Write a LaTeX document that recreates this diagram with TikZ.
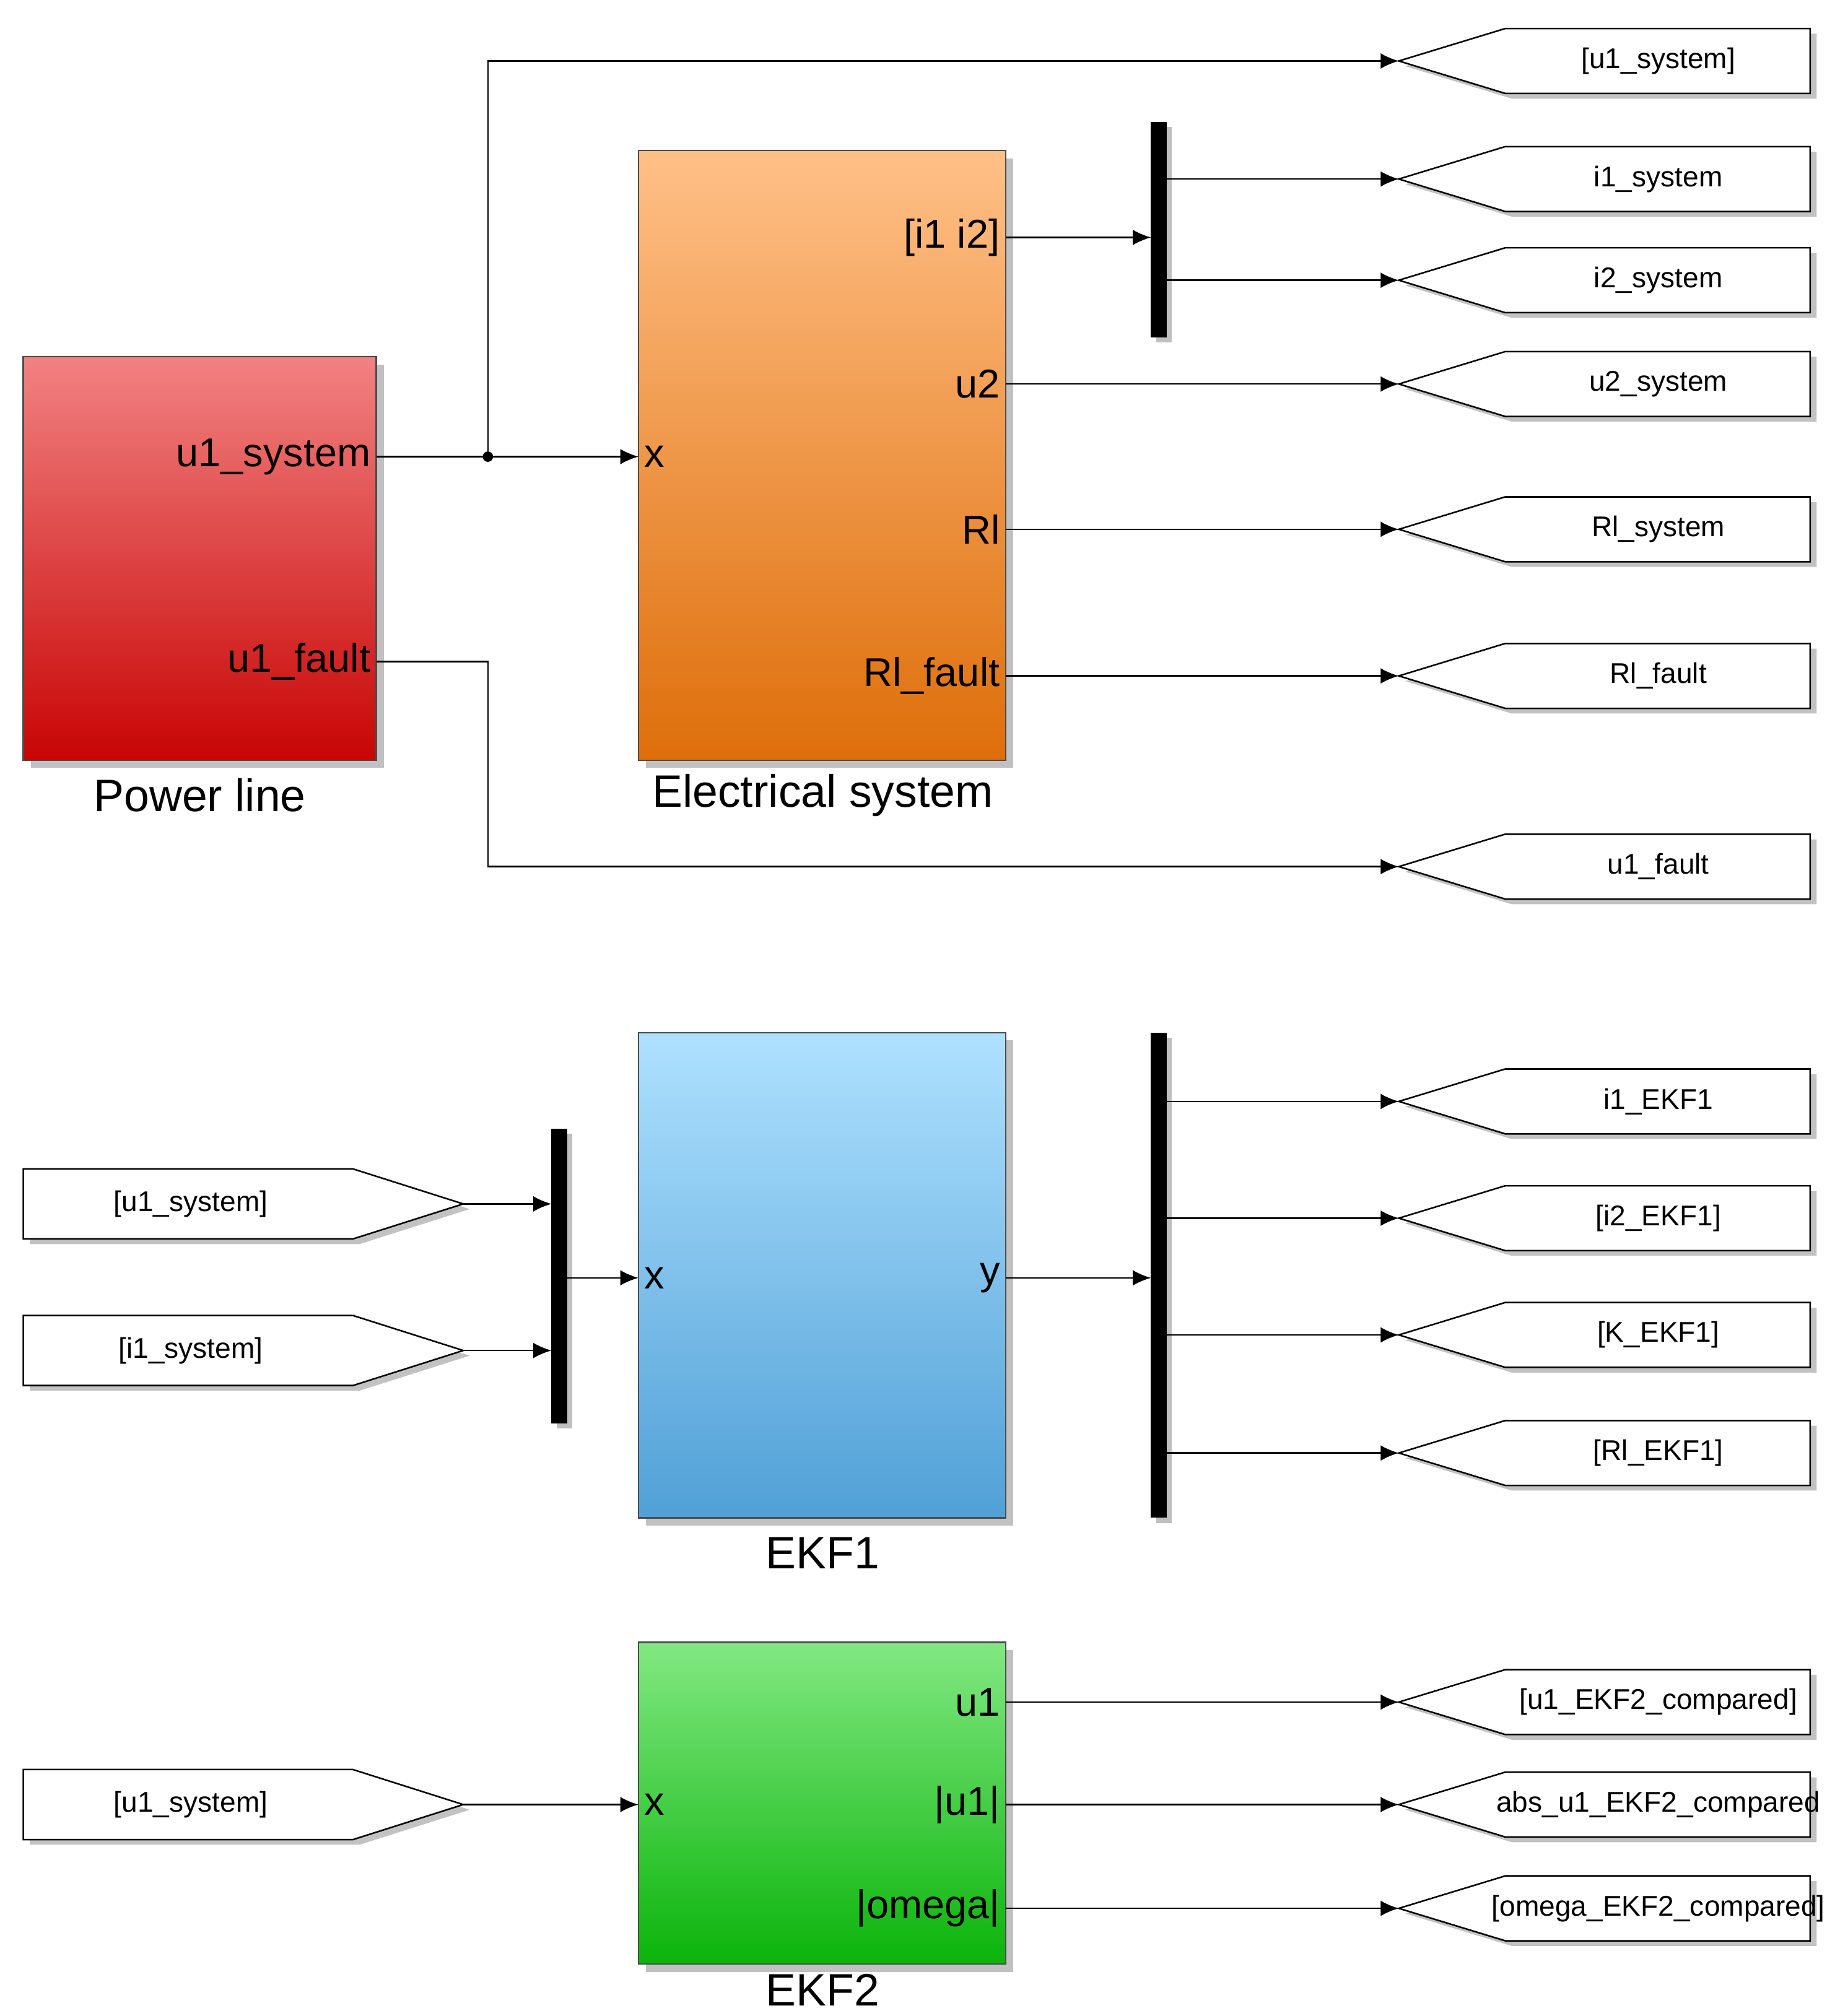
\documentclass[tikz,border=0pt]{standalone}
\usepackage{fontspec}
\setmainfont{Liberation Sans}
\usetikzlibrary{arrows.meta,shadows}
\definecolor{pinkT}{RGB}{242,130,130}\definecolor{redB}{RGB}{200,5,5}
\definecolor{orT}{RGB}{255,192,135}\definecolor{orB}{RGB}{222,110,10}
\definecolor{blT}{RGB}{175,225,255}\definecolor{blB}{RGB}{80,160,215}
\definecolor{grT}{RGB}{130,232,130}\definecolor{grB}{RGB}{10,180,10}
\begin{document}
\begin{tikzpicture}[x=0.5pt,y=-0.5pt,
 sh/.style={drop shadow={shadow xshift=3pt,shadow yshift=-3pt,opacity=.35,fill=black!70}},
 blk/.style={draw=black!70,line width=0.6pt,sh},
 port/.style={font=\fontsize{15.5}{17}\selectfont,inner sep=2pt},
 title/.style={font=\fontsize{17.5}{19}\selectfont},
 tagt/.style={font=\fontsize{11}{12}\selectfont},
 ar/.style={-{Latex[length=7pt,width=6pt]},line width=0.6pt},
 ln/.style={line width=0.6pt}]
\useasboundingbox (0,0) rectangle (1414,1554);
\newcommand\gototag[3]{%
 \fill[black!60,opacity=.4] (1083,#2+4)--(1165,#2-21)--(1400,#2-21)--(1400,#2+29)--(1165,#2+29)--cycle;
 \draw[fill=white,line width=0.6pt] (1078,#2)--(1160,#2-25)--(1395,#2-25)--(1395,#2+25)--(1160,#2+25)--cycle;
 \coordinate (#1) at (1078,#2);
 \node[tagt] at (1278,#2) {#3};}
\newcommand\fromtag[3]{%
 \fill[black!60,opacity=.4] (23,#2-23)--(277,#2-23)--(362,#2+4)--(277,#2+31)--(23,#2+31)--cycle;
 \draw[fill=white,line width=0.6pt] (18,#2-27)--(272,#2-27)--(357,#2)--(272,#2+27)--(18,#2+27)--cycle;
 \coordinate (#1) at (357,#2);
 \node[tagt] at (147,#2) {#3};}
\newcommand\muxbar[4]{%
 \fill[black!50,opacity=.5] (#2+4,#3+4) rectangle (#2+16,#4+4);
 \fill[black] (#2,#3) rectangle (#2+12,#4);
 \node[inner sep=0,minimum width=6pt,minimum height=#4*0.5pt-#3*0.5pt] (#1) at (#2+6,#3/2+#4/2) {};}
\path[blk,top color=pinkT,bottom color=redB] (18,275) rectangle (290,586);
\path[blk,top color=orT,bottom color=orB] (492,116) rectangle (775,586);
\path[blk,top color=blT,bottom color=blB] (492,796) rectangle (775,1170);
\path[blk,top color=grT,bottom color=grB] (492,1266) rectangle (775,1514);
\node[title] at (154,613) {Power line};
\node[title] at (634,613) {Electrical system};
\node[title] at (634,1197) {EKF1};
\node[title] at (634,1534) {EKF2};
\node[port,anchor=east] (pu1s) at (290,352) {u1\_system};
\node[port,anchor=east] (pu1f) at (290,510) {u1\_fault};
\node[port,anchor=west] (ex) at (492,352) {x};
\node[port,anchor=east] (ei) at (775,183) {[i1 i2]};
\node[port,anchor=east] (eu2) at (775,296) {u2};
\node[port,anchor=east] (erl) at (775,408) {Rl};
\node[port,anchor=east] (erlf) at (775,521) {Rl\_fault};
\node[port,anchor=west] (k1x) at (492,985) {x};
\node[port,anchor=east] (k1y) at (775,985) {y};
\node[port,anchor=west] (k2x) at (492,1391) {x};
\node[port,anchor=east] (k2u) at (775,1312) {u1};
\node[port,anchor=east] (k2a) at (775,1391) {|u1|};
\node[port,anchor=east] (k2o) at (775,1471) {|omega|};
\gototag{g1}{47}{[u1\_system]}
\gototag{g2}{138}{i1\_system}
\gototag{g3}{216}{i2\_system}
\gototag{g4}{296}{u2\_system}
\gototag{g5}{408}{Rl\_system}
\gototag{g6}{521}{Rl\_fault}
\gototag{g7}{668}{u1\_fault}
\gototag{g8}{849}{i1\_EKF1}
\gototag{g9}{939}{[i2\_EKF1]}
\gototag{g10}{1029}{[K\_EKF1]}
\gototag{g11}{1120}{[Rl\_EKF1]}
\gototag{g12}{1312}{[u1\_EKF2\_compared]}
\gototag{g13}{1391}{abs\_u1\_EKF2\_compared}
\gototag{g14}{1471}{[omega\_EKF2\_compared]}
\fromtag{f1}{928}{[u1\_system]}
\fromtag{f2}{1041}{[i1\_system]}
\fromtag{f3}{1391}{[u1\_system]}
\muxbar{m1}{887}{94}{260}
\muxbar{m2}{425}{870}{1097}
\muxbar{m3}{887}{796}{1170}
\coordinate (j) at (376,352);
\fill (j) circle (4);
\draw[ln] (pu1s.east)--(j);
\draw[ar] (j)--(492,352);
\draw[ar] (j)|-(g1);
\draw[ar] (pu1f.east)-|(376,668)--(g7);
\draw[ar] (ei.east)--(887,183);
\draw[ar] (899,138)--(g2);
\draw[ar] (899,216)--(g3);
\draw[ar] (eu2.east)--(g4);
\draw[ar] (erl.east)--(g5);
\draw[ar] (erlf.east)--(g6);
\draw[ar] (f1)--(425,928);
\draw[ar] (f2)--(425,1041);
\draw[ar] (437,985)--(492,985);
\draw[ar] (k1y.east)--(887,985);
\draw[ar] (899,849)--(g8);
\draw[ar] (899,939)--(g9);
\draw[ar] (899,1029)--(g10);
\draw[ar] (899,1120)--(g11);
\draw[ar] (f3)--(492,1391);
\draw[ar] (k2u.east)--(g12);
\draw[ar] (k2a.east)--(g13);
\draw[ar] (k2o.east)--(g14);
\end{tikzpicture}
\end{document}
